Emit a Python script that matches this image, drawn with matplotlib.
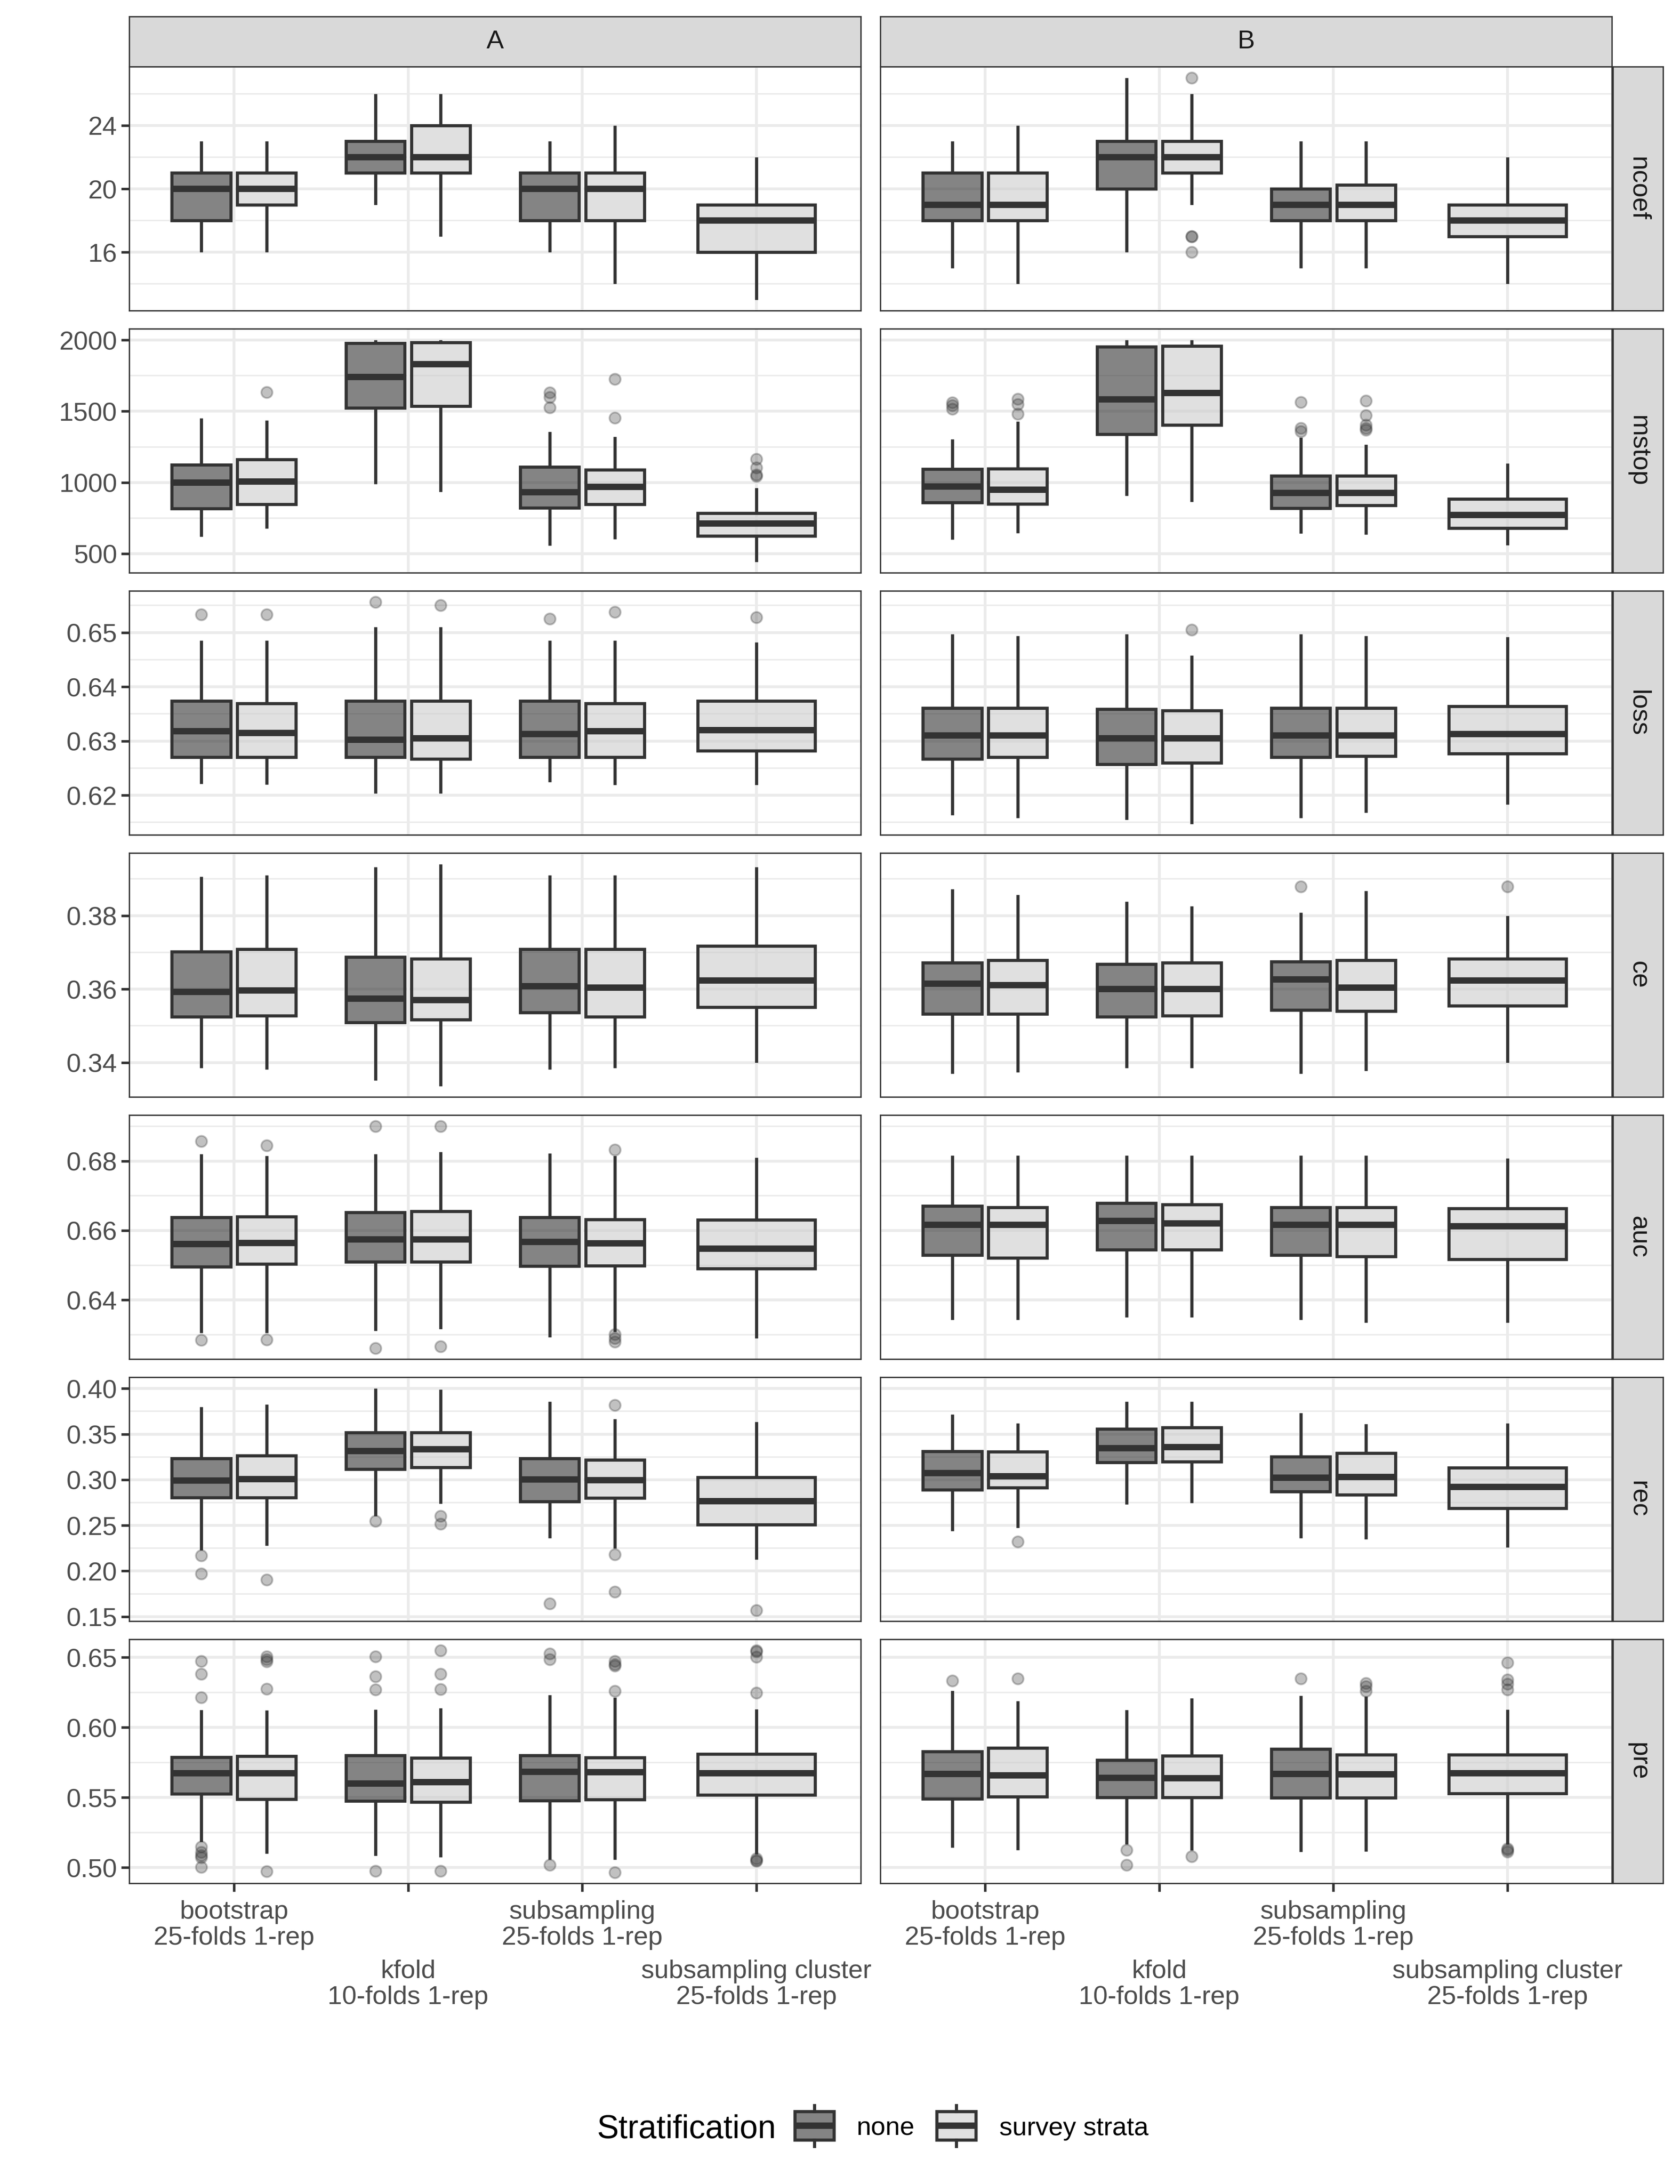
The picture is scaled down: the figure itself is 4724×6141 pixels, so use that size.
import matplotlib
matplotlib.use("Agg")
import matplotlib.pyplot as plt
from matplotlib.patches import Rectangle
from matplotlib.lines import Line2D
from matplotlib.ticker import FixedLocator, FormatStrFormatter

plt.rcParams['font.family'] = ['Liberation Sans', 'DejaVu Sans']

methods = ["bootstrap\n25-folds 1-rep", "kfold\n10-folds 1-rep",
           "subsampling\n25-folds 1-rep", "subsampling cluster\n25-folds 1-rep"]
strat_levels = ["none", "survey strata"]
facets = ["A", "B"]
metrics = ["ncoef", "mstop", "loss", "ce", "auc", "rec", "pre"]

# (method, stratification, lower whisker, q1, median, q3, upper whisker, outliers)
ncoef_A = [
    (0, 0, 16, 18, 20, 21, 23, []),
    (0, 1, 16, 19, 20, 21, 23, []),
    (1, 0, 19, 21, 22, 23, 26, []),
    (1, 1, 17, 21, 22, 24, 26, []),
    (2, 0, 16, 18, 20, 21, 23, []),
    (2, 1, 14, 18, 20, 21, 24, []),
    (3, 1, 13, 16, 18, 19, 22, []),
]
ncoef_B = [
    (0, 0, 15, 18, 19, 21, 23, []),
    (0, 1, 14, 18, 19, 21, 24, []),
    (1, 0, 16, 20, 22, 23, 27, []),
    (1, 1, 19, 21, 22, 23, 26, [27, 17, 17, 16]),
    (2, 0, 15, 18, 19, 20, 23, []),
    (2, 1, 15, 18, 19, 20.25, 23, []),
    (3, 1, 14, 17, 18, 19, 22, []),
]
mstop_A = [
    (0, 0, 620, 817, 1000, 1125, 1451, []),
    (0, 1, 678, 848, 1008, 1161, 1437, [1633]),
    (1, 0, 989, 1524, 1742, 1978, 2000, []),
    (1, 1, 934, 1537, 1831, 1984, 2000, []),
    (2, 0, 557, 822, 932, 1110, 1357, [1631, 1598, 1526]),
    (2, 1, 602, 846, 969, 1090, 1321, [1725, 1454]),
    (3, 1, 443, 625, 712, 784, 961, [1163, 1105, 1055, 1044]),
]
mstop_B = [
    (0, 0, 601, 859, 972, 1094, 1304, [1561, 1540, 1515]),
    (0, 1, 646, 850, 950, 1097, 1429, [1587, 1548, 1482]),
    (1, 0, 906, 1340, 1584, 1952, 2000, []),
    (1, 1, 864, 1404, 1628, 1958, 2000, []),
    (2, 0, 642, 820, 928, 1047, 1316, [1564, 1381, 1359]),
    (2, 1, 634, 840, 926, 1047, 1266, [1573, 1470, 1404, 1381, 1370]),
    (3, 1, 560, 679, 773, 884, 1133, []),
]
loss_A = [
    (0, 0, .6221, .6270, .6318, .6374, .6485, [.6533]),
    (0, 1, .6220, .6270, .6315, .6369, .6485, [.6533]),
    (1, 0, .6203, .6270, .6302, .6374, .6510, [.6556]),
    (1, 1, .6203, .6267, .6305, .6374, .6510, [.6550]),
    (2, 0, .6224, .6270, .6313, .6374, .6485, [.6525]),
    (2, 1, .6219, .6270, .6318, .6369, .6485, [.6538]),
    (3, 1, .6219, .6282, .6320, .6374, .6482, [.6528]),
]
loss_B = [
    (0, 0, .6163, .6267, .6310, .6361, .6497, []),
    (0, 1, .6158, .6270, .6310, .6361, .6494, []),
    (1, 0, .6155, .6257, .6305, .6359, .6497, []),
    (1, 1, .6147, .6260, .6305, .6356, .6458, [.6505]),
    (2, 0, .6158, .6270, .6310, .6361, .6497, []),
    (2, 1, .6168, .6272, .6310, .6361, .6494, []),
    (3, 1, .6183, .6277, .6313, .6364, .6492, []),
]
ce_A = [
    (0, 0, .3385, .3525, .3592, .3702, .3906, []),
    (0, 1, .3381, .3528, .3596, .3709, .3910, []),
    (1, 0, .3351, .3509, .3574, .3687, .3932, []),
    (1, 1, .3336, .3517, .3570, .3683, .3940, []),
    (2, 0, .3381, .3536, .3608, .3709, .3910, []),
    (2, 1, .3385, .3525, .3604, .3709, .3910, []),
    (3, 1, .3400, .3551, .3623, .3717, .3932, []),
]
ce_B = [
    (0, 0, .3370, .3532, .3615, .3672, .3872, []),
    (0, 1, .3374, .3532, .3611, .3679, .3857, []),
    (1, 0, .3385, .3525, .3600, .3668, .3838, []),
    (1, 1, .3385, .3528, .3600, .3672, .3826, []),
    (2, 0, .3370, .3543, .3626, .3675, .3808, [.3879]),
    (2, 1, .3377, .3540, .3604, .3679, .3868, []),
    (3, 1, .3400, .3555, .3623, .3683, .3800, [.3879]),
]
auc_A = [
    (0, 0, .6305, .6495, .6561, .6638, .6820, [.6857, .6284]),
    (0, 1, .6305, .6504, .6564, .6640, .6815, [.6845, .6285]),
    (1, 0, .6311, .6510, .6574, .6652, .6820, [.6900, .6261]),
    (1, 1, .6316, .6510, .6574, .6655, .6826, [.6900, .6266]),
    (2, 0, .6293, .6497, .6567, .6638, .6822, []),
    (2, 1, .6308, .6499, .6563, .6632, .6815, [.6833, .6301, .6290, .6279]),
    (3, 1, .6289, .6490, .6548, .6631, .6810, []),
]
auc_B = [
    (0, 0, .6343, .6529, .6616, .6671, .6816, []),
    (0, 1, .6343, .6521, .6616, .6667, .6816, []),
    (1, 0, .6350, .6545, .6628, .6679, .6816, []),
    (1, 1, .6350, .6545, .6620, .6675, .6816, []),
    (2, 0, .6343, .6529, .6616, .6667, .6816, []),
    (2, 1, .6335, .6525, .6616, .6667, .6816, []),
    (3, 1, .6335, .6517, .6612, .6663, .6808, []),
]
rec_A = [
    (0, 0, .2229, .2804, .2991, .3234, .3797, [.2168, .1969]),
    (0, 1, .2277, .2804, .3009, .3263, .3827, [.1905]),
    (1, 0, .2601, .3118, .3315, .3516, .4000, [.2546]),
    (1, 1, .2740, .3135, .3334, .3516, .3988, [.2601, .2515]),
    (2, 0, .2359, .2761, .3005, .3234, .3858, [.1645]),
    (2, 1, .2246, .2801, .2995, .3217, .3667, [.3818, .2180, .1770]),
    (3, 1, .2128, .2510, .2766, .3026, .3636, [.1570]),
]
rec_B = [
    (0, 0, .2437, .2891, .3075, .3312, .3716, []),
    (0, 1, .2475, .2912, .3040, .3307, .3619, [.2321]),
    (1, 0, .2731, .3191, .3347, .3558, .3858, []),
    (1, 1, .2745, .3199, .3359, .3572, .3858, []),
    (2, 0, .2359, .2870, .3021, .3251, .3731, []),
    (2, 1, .2350, .2835, .3031, .3291, .3612, []),
    (3, 1, .2258, .2688, .2922, .3133, .3619, []),
]
pre_A = [
    (0, 0, .5182, .5526, .5673, .5788, .6126, [.6474, .6382, .6215, .5147, .5109, .5086, .5071, .5003]),
    (0, 1, .5099, .5487, .5673, .5795, .6122, [.6506, .6487, .6471, .6276, .4971]),
    (1, 0, .5083, .5474, .5600, .5799, .6128, [.6506, .6365, .6269, .4974]),
    (1, 1, .5074, .5468, .5609, .5782, .6138, [.6549, .6382, .6272, .4974]),
    (2, 0, .5055, .5477, .5683, .5801, .6231, [.6526, .6487, .5017]),
    (2, 1, .5056, .5484, .5681, .5785, .6215, [.6473, .6450, .6439, .6259, .4965]),
    (3, 1, .5093, .5519, .5672, .5810, .6131, [.6549, .6543, .6505, .6247, .5064, .5052, .5046]),
]
pre_B = [
    (0, 0, .5143, .5490, .5667, .5829, .6262, [.6334]),
    (0, 1, .5124, .5505, .5658, .5853, .6189, [.6349]),
    (1, 0, .5166, .5501, .5640, .5766, .6126, [.5124, .5017]),
    (1, 1, .5122, .5501, .5637, .5798, .6209, [.5078]),
    (2, 0, .5113, .5497, .5667, .5845, .6227, [.6349]),
    (2, 1, .5115, .5497, .5665, .5806, .6221, [.6317, .6294, .6259]),
    (3, 1, .5166, .5528, .5673, .5804, .6128, [.6462, .6340, .6311, .6270, .5135, .5124, .5112]),
]

ncoef_ticks = [16, 20, 24]
mstop_ticks = [500, 1000, 1500, 2000]
loss_ticks = [0.62, 0.63, 0.64, 0.65]
ce_ticks = [0.34, 0.36, 0.38]
auc_ticks = [0.64, 0.66, 0.68]
rec_ticks = [0.15, 0.20, 0.25, 0.30, 0.35, 0.40]
pre_ticks = [0.50, 0.55, 0.60, 0.65]

panels = {
    "ncoef": (ncoef_A, ncoef_B, ncoef_ticks, "%d"),
    "mstop": (mstop_A, mstop_B, mstop_ticks, "%d"),
    "loss": (loss_A, loss_B, loss_ticks, "%.2f"),
    "ce": (ce_A, ce_B, ce_ticks, "%.2f"),
    "auc": (auc_A, auc_B, auc_ticks, "%.2f"),
    "rec": (rec_A, rec_B, rec_ticks, "%.2f"),
    "pre": (pre_A, pre_B, pre_ticks, "%.2f"),
}

# figure layout in pixels
W, H = 4724, 6141
COL_X = [364, 2476]
COL_W = 2057
ROW_TOP0, ROW_STEP, ROW_H = 188, 737, 686
STRIP = 141

DARK = '#333333'
fills = [(0.2, 0.2, 0.2, 0.6), (0.8, 0.8, 0.8, 0.6)]
GRID = '#ebebeb'
FS = 17.6


def rect(x0, top, w, h):
    return [x0 / W, 1 - (top + h) / H, w / W, h / H]


def strip_axes(r, text, rot):
    sa = fig.add_axes(r)
    sa.set_facecolor('#d9d9d9')
    sa.set_xticks([])
    sa.set_yticks([])
    for s in sa.spines.values():
        s.set_color(DARK)
        s.set_linewidth(0.9)
    sa.text(0.5, 0.5, text, transform=sa.transAxes, ha='center', va='center',
            rotation=rot, fontsize=FS, color='#1a1a1a')


fig = plt.figure(figsize=(W / 300, H / 300), dpi=300)

for c, f in enumerate(facets):
    strip_axes(rect(COL_X[c], 47, COL_W, STRIP), f, 0)

for r, m in enumerate(metrics):
    data_A, data_B, ticks, fmt = panels[m]
    top = ROW_TOP0 + r * ROW_STEP
    # shared y range for the row, 5% expansion
    vals = []
    for d in (data_A, data_B):
        for row in d:
            vals += [row[2], row[6]] + list(row[7])
    lo, hi = min(vals), max(vals)
    pad = 0.05 * (hi - lo)
    step = ticks[1] - ticks[0]
    minors = [ticks[0] - step / 2] + [t + step / 2 for t in ticks]

    for c, d in enumerate((data_A, data_B)):
        ax = fig.add_axes(rect(COL_X[c], top, COL_W, ROW_H))
        counts = {}
        for row in d:
            counts[row[0]] = counts.get(row[0], 0) + 1
        for mi, si, wlo, q1, med, q3, whi, out in d:
            if counts[mi] == 1:
                pos, w = mi + 1, 0.675
            else:
                pos, w = mi + 1 + (-0.1875 if si == 0 else 0.1875), 0.3375
            ax.bxp([dict(whislo=wlo, q1=q1, med=med, q3=q3, whishi=whi, fliers=out)],
                   positions=[pos], widths=[w], patch_artist=True, showcaps=False,
                   manage_ticks=False,
                   boxprops=dict(facecolor=fills[si], edgecolor=DARK, linewidth=2.1),
                   medianprops=dict(color=DARK, linewidth=4.3, solid_capstyle='butt'),
                   whiskerprops=dict(color=DARK, linewidth=2.1, solid_capstyle='butt'),
                   flierprops=dict(marker='o', markersize=7.5, markerfacecolor=DARK,
                                   markeredgecolor=DARK, markeredgewidth=1.2, alpha=0.3,
                                   linestyle='none'))
        ax.set_xlim(0.4, 4.6)
        ax.set_ylim(lo - pad, hi + pad)
        ax.yaxis.set_major_locator(FixedLocator(ticks))
        ax.yaxis.set_minor_locator(FixedLocator(minors))
        ax.yaxis.set_major_formatter(FormatStrFormatter(fmt))
        ax.xaxis.set_major_locator(FixedLocator([1, 3]))
        ax.xaxis.set_minor_locator(FixedLocator([2, 4]))
        ax.set_axisbelow(True)
        ax.grid(True, axis='y', which='major', color=GRID, linewidth=1.9)
        ax.grid(True, axis='y', which='minor', color=GRID, linewidth=1.0)
        ax.grid(True, axis='x', which='both', color=GRID, linewidth=1.9)
        for s in ax.spines.values():
            s.set_color(DARK)
            s.set_linewidth(0.9)
            s.set_zorder(5)
        ax.tick_params(axis='y', which='major', length=5.5, width=1.7, color=DARK,
                       labelsize=FS, labelcolor='#4d4d4d', pad=2.9)
        ax.tick_params(axis='y', which='minor', length=0)
        if c == 1:
            ax.tick_params(axis='y', which='both', labelleft=False, length=0)
        if r == len(metrics) - 1:
            ax.set_xticklabels([methods[0], methods[2]], linespacing=1.12)
            ax.set_xticklabels([methods[1], methods[3]], minor=True, linespacing=1.12)
            ax.tick_params(axis='x', which='both', length=5.5, width=1.7, color=DARK,
                           labelsize=FS, labelcolor='#4d4d4d')
            ax.tick_params(axis='x', which='major', pad=5.8)
            ax.tick_params(axis='x', which='minor', pad=45.8)
        else:
            ax.tick_params(axis='x', which='both', length=0, labelbottom=False)

    strip_axes(rect(4536, top, STRIP, ROW_H), m, 270)

# legend
lg = fig.add_axes([0, 0, 1, 245 / H])
lg.set_xlim(0, W)
lg.set_ylim(0, 245)
lg.axis('off')
lg.text(1679, 129, "Stratification", fontsize=22, color='black', va='baseline', ha='left')
key_x = [2290, 2689]
label_x = [2408, 2810]
for i, lab in enumerate(strat_levels):
    kx = key_x[i]
    lg.add_patch(Rectangle((kx - 55, 124), 110, 80, facecolor=fills[i],
                           edgecolor=DARK, linewidth=2.1))
    lg.add_line(Line2D([kx - 55, kx + 55], [164, 164], color=DARK, linewidth=4.3,
                       solid_capstyle='butt'))
    lg.add_line(Line2D([kx, kx], [106, 124], color=DARK, linewidth=2.1))
    lg.add_line(Line2D([kx, kx], [204, 221], color=DARK, linewidth=2.1))
    lg.text(label_x[i], 137, lab, fontsize=FS, color='black', va='baseline', ha='left')

fig.savefig("out.png", dpi=300)
